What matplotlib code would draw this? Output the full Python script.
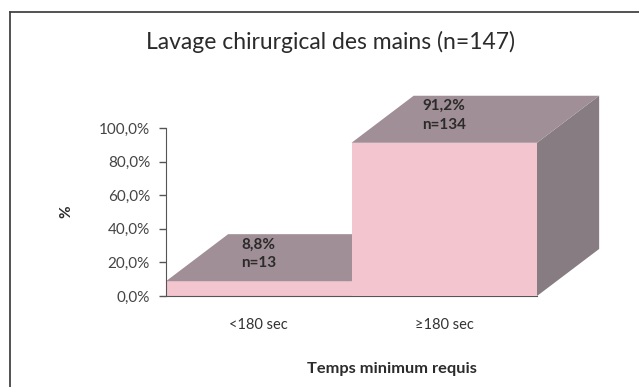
import matplotlib
matplotlib.use("Agg")
import matplotlib.pyplot as plt
from matplotlib.patches import Polygon
from matplotlib.lines import Line2D

plt.rcParams['font.family'] = ['Lato', 'DejaVu Sans']

categories = ["<180 sec", "\u2265180 sec"]
percent = [8.8, 91.2]
counts = [13, 134]
yticks = [0, 20, 40, 60, 80, 100]

front = '#F2C5CF'
top = '#A08F96'
side = '#867C81'
text_col = '#2b2b2b'

# 3D depth of the bars, in data units
dx = 0.335
dy = 28.0
width = 1.0

fig = plt.figure(figsize=(6.39, 3.87), dpi=100)
ax = fig.add_axes([166/639, 91/387, 371/639, 168/387])

x = list(range(len(categories)))
for i in x:
    v = percent[i]
    l = i - width/2
    r = i + width/2
    ax.bar(i, v, width=width, color=front, edgecolor='none', zorder=2 + 3*i)
    # top face
    ax.add_patch(Polygon([(l, v), (r, v), (r + dx, v + dy), (l + dx, v + dy)],
                         closed=True, facecolor=top, edgecolor='none',
                         clip_on=False, zorder=2 + 3*i))
    # right side face
    ax.add_patch(Polygon([(r, 0), (r, v), (r + dx, v + dy), (r + dx, dy)],
                         closed=True, facecolor=side, edgecolor='none',
                         clip_on=False, zorder=1 + 3*i))
    label = f"{v:.1f}%".replace('.', ',') + f"\nn={counts[i]}"
    ax.text(i, v + 16.3, label, ha='center', va='center', fontsize=11,
            fontweight='bold', color=text_col, linespacing=1.4, zorder=10,
            clip_on=False)

ax.set_xlim(-0.5, 1.5)
ax.set_ylim(0, 100)
ax.set_yticks(yticks)
ax.set_yticklabels([f"{t:.1f}%".replace('.', ',') for t in yticks])
ax.set_xticks(x)
ax.set_xticklabels(categories)

for s in ['top', 'right']:
    ax.spines[s].set_visible(False)
ax.spines['left'].set_color('#555555')
ax.spines['bottom'].set_color('#555555')
ax.spines['left'].set_zorder(20)
ax.patch.set_visible(False)

ax.tick_params(axis='y', length=5, width=1, color='#555555', pad=6.5,
               labelsize=11, labelcolor='#444444')
ax.tick_params(axis='x', length=0, pad=16, labelsize=10.5, labelcolor='#333333')

ax.set_ylabel('%', fontsize=11, fontweight='bold', color=text_col)
ax.yaxis.set_label_coords(-0.251, 0.5)
ax.set_xlabel('Temps minimum requis', fontsize=11.8, fontweight='bold',
              color=text_col)
ax.xaxis.set_label_coords(0.609, -0.393)

fig.text(331/639, 1 - 42/387, 'Lavage chirurgical des mains (n=147)',
         ha='center', va='center', fontsize=16.5, color=text_col)

# outer frame of the chart area
fig.add_artist(Line2D([10/639, 10/639], [0, 1 - 12/387], color='#444444', lw=1.3))
fig.add_artist(Line2D([10/639, 1], [1 - 12/387, 1 - 12/387], color='#444444', lw=1.3))

fig.savefig('out.png', dpi=100)
